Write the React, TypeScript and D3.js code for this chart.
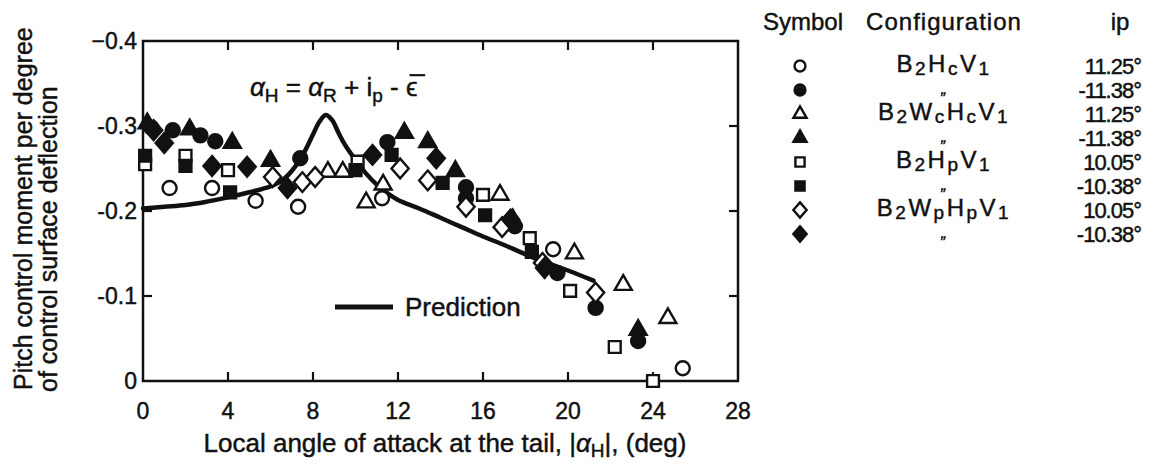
import React from "react";
import * as d3 from "d3";

const width = 1153;
const height = 470;
const frame = { left: 143, right: 738, top: 41, bottom: 381 };
const FONT = "'Liberation Sans', Arial, sans-serif";
const INK = "#111";

// tick values / labels
const xTicks = [0, 4, 8, 12, 16, 20, 24, 28];
const yTicks = [0, -0.1, -0.2, -0.3, -0.4];
const yTickLabels = ["0", "-0.1", "-0.2", "-0.3", "\u22120.4"];

// test data (x = |alpha_H| deg, y = pitch control moment)
const openCircle = [[1.25, -0.227], [3.25, -0.227], [5.3, -0.212], [7.3, -0.205], [11.25, -0.215], [19.3, -0.155], [25.4, -0.015]];
const filledCircle = [[0.4, -0.298], [1.4, -0.295], [2.7, -0.289], [3.4, -0.282], [7.4, -0.262], [11.5, -0.281], [15.2, -0.228], [15.2, -0.215], [17.5, -0.182], [19.5, -0.127], [21.3, -0.086], [23.3, -0.047]];
const openTriangle = [[8.7, -0.246], [9.4, -0.246], [10.5, -0.21], [11.3, -0.231], [16.8, -0.219], [20.3, -0.15], [22.6, -0.113], [24.7, -0.074]];
const filledTriangle = [[0.2, -0.303], [2.2, -0.296], [4.2, -0.28], [6.0, -0.259], [12.3, -0.292], [13.4, -0.281], [14.7, -0.247], [17.4, -0.19], [23.3, -0.06]];
const openSquare = [[0.1, -0.255], [2.0, -0.265], [4.0, -0.248], [10.1, -0.258], [16.0, -0.219], [18.2, -0.168], [20.1, -0.106], [22.2, -0.04], [24, 0]];
const filledSquare = [[0.1, -0.265], [2.0, -0.253], [4.1, -0.222], [10.0, -0.248], [11.7, -0.266], [14.1, -0.233], [16.1, -0.195], [18.3, -0.152]];
const openDiamond = [[6.1, -0.24], [7.5, -0.234], [8.1, -0.24], [12.1, -0.25], [13.4, -0.236], [15.2, -0.205], [16.9, -0.181], [18.8, -0.139], [21.3, -0.104]];
const filledDiamond = [[0.5, -0.295], [1.0, -0.28], [3.25, -0.253], [4.9, -0.252], [6.8, -0.227], [10.8, -0.266], [13.8, -0.262], [17.3, -0.19], [18.9, -0.133]];

// prediction curve
const prediction = [[0, -0.203], [1, -0.205], [2, -0.207], [3, -0.211], [4, -0.216], [5, -0.222], [6, -0.229], [6.5, -0.235], [7, -0.247], [7.5, -0.265], [8, -0.29], [8.3, -0.305], [8.6, -0.313], [8.9, -0.307], [9.2, -0.292], [9.5, -0.278], [10, -0.26], [10.5, -0.244], [11, -0.231], [11.5, -0.221], [12, -0.213], [13, -0.203], [14, -0.192], [15, -0.181], [16, -0.17], [17, -0.16], [18, -0.149], [19, -0.139], [20, -0.13], [21.2, -0.118]];

// legend rows
const legendShapes = ["circle", "circle", "triangle", "triangle", "square", "square", "diamond", "diamond"];
const legendFilled = [false, true, false, true, false, true, false, true];
const legendConfigs = [
  [["B", ""], ["2", "sub"], ["H", ""], ["c", "sub"], ["V", ""], ["1", "sub"]],
  null,
  [["B", ""], ["2", "sub"], ["W", ""], ["c", "sub"], ["H", ""], ["c", "sub"], ["V", ""], ["1", "sub"]],
  null,
  [["B", ""], ["2", "sub"], ["H", ""], ["p", "sub"], ["V", ""], ["1", "sub"]],
  null,
  [["B", ""], ["2", "sub"], ["W", ""], ["p", "sub"], ["H", ""], ["p", "sub"], ["V", ""], ["1", "sub"]],
  null,
];
const legendIp = ["11.25\u00b0", "-11.38\u00b0", "11.25\u00b0", "-11.38\u00b0", "10.05\u00b0", "-10.38\u00b0", "10.05\u00b0", "-10.38\u00b0"];

const series = [
  { data: openCircle, shape: "circle", filled: false },
  { data: filledCircle, shape: "circle", filled: true },
  { data: openTriangle, shape: "triangle", filled: false },
  { data: filledTriangle, shape: "triangle", filled: true },
  { data: openSquare, shape: "square", filled: false },
  { data: filledSquare, shape: "square", filled: true },
  { data: openDiamond, shape: "diamond", filled: false },
  { data: filledDiamond, shape: "diamond", filled: true },
];

const diamondType = {
  draw(ctx, size) {
    const w = Math.sqrt(size) * 0.6;
    const h = w * 1.15;
    ctx.moveTo(0, -h);
    ctx.lineTo(w, 0);
    ctx.lineTo(0, h);
    ctx.lineTo(-w, 0);
    ctx.closePath();
  },
};

function markerPath(shape, scale = 1) {
  if (shape === "circle") return d3.symbol(d3.symbolCircle, 155 * scale)();
  if (shape === "triangle") return d3.symbol(d3.symbolTriangle, 125 * scale)();
  if (shape === "square") return d3.symbol(d3.symbolSquare, 140 * scale)();
  return d3.symbol(diamondType, 205 * scale)();
}

function Marker({ x, y, shape, filled, scale = 1 }) {
  return (
    <path
      transform={`translate(${x},${y})`}
      d={markerPath(shape, scale)}
      fill={filled ? INK : "#fff"}
      stroke={INK}
      strokeWidth={2.4}
    />
  );
}

export default function App() {
  const xScale = d3.scaleLinear().domain([0, 28]).range([frame.left, frame.right]);
  const yScale = d3.scaleLinear().domain([0, -0.4]).range([frame.bottom, frame.top]);
  const line = d3
    .line()
    .x((d) => xScale(d[0]))
    .y((d) => yScale(d[1]))
    .curve(d3.curveCatmullRom);

  const tickLen = 9;
  const legendY = (i) => 66 + i * 24;

  return (
    <svg
      width={width}
      height={height}
      style={{ position: "absolute", left: 0, top: 0, background: "#fff" }}
      fontFamily={FONT}
    >
      {/* frame */}
      <rect
        x={frame.left}
        y={frame.top}
        width={frame.right - frame.left}
        height={frame.bottom - frame.top}
        fill="none"
        stroke={INK}
        strokeWidth={2.5}
      />
      {/* x ticks, bottom and top, pointing inward */}
      {xTicks.slice(1, -1).map((t) => (
        <g key={"xt" + t}>
          <line x1={xScale(t)} x2={xScale(t)} y1={frame.bottom} y2={frame.bottom - tickLen} stroke={INK} strokeWidth={2.2} />
          <line x1={xScale(t)} x2={xScale(t)} y1={frame.top} y2={frame.top + tickLen} stroke={INK} strokeWidth={2.2} />
        </g>
      ))}
      {/* y ticks, left and right */}
      {yTicks.slice(1, -1).map((t) => (
        <g key={"yt" + t}>
          <line x1={frame.left} x2={frame.left + tickLen} y1={yScale(t)} y2={yScale(t)} stroke={INK} strokeWidth={2.2} />
          <line x1={frame.right} x2={frame.right - tickLen} y1={yScale(t)} y2={yScale(t)} stroke={INK} strokeWidth={2.2} />
        </g>
      ))}

      <g fill={INK} stroke={INK} strokeWidth={0.45}>
        {/* tick labels */}
        {xTicks.map((t) => (
          <text key={"xl" + t} x={xScale(t)} y={419} textAnchor="middle" fontSize={23}>
            {t}
          </text>
        ))}
        {yTicks.map((t, i) => (
          <text key={"yl" + t} x={137} y={yScale(t) + 8} textAnchor="end" fontSize={23}>
            {yTickLabels[i]}
          </text>
        ))}

        {/* axis titles */}
        <text x={445} y={452} textAnchor="middle" fontSize={26}>
          Local angle of attack at the tail, |
          <tspan fontStyle="italic">α</tspan>
          <tspan fontSize={19} dy={5}>H</tspan>
          <tspan dy={-5}>|, (deg)</tspan>
        </text>
        <text transform="translate(32,390) rotate(-90)" fontSize={25}>
          Pitch control moment per degree
        </text>
        <text transform="translate(57,392) rotate(-90)" fontSize={25}>
          of control surface deflection
        </text>

        {/* formula */}
        <text x={250} y={96} fontSize={26}>
          <tspan fontStyle="italic">α</tspan>
          <tspan fontSize={19} dy={6}>H</tspan>
          <tspan dy={-6}> = </tspan>
          <tspan fontStyle="italic">α</tspan>
          <tspan fontSize={19} dy={6}>R</tspan>
          <tspan dy={-6}> + i</tspan>
          <tspan fontSize={19} dy={6}>p</tspan>
          <tspan dy={-6}> - </tspan>
          <tspan>{"\u03f5\u0305"}</tspan>
        </text>

        {/* prediction key text */}
        <text x={405} y={316} fontSize={26}>Prediction</text>

        {/* legend text */}
        <text x={763} y={30} fontSize={24}>Symbol</text>
        <text x={944} y={30} fontSize={24} textAnchor="middle" letterSpacing={1}>Configuration</text>
        <text x={1120} y={30} fontSize={24} textAnchor="middle">ip</text>
        {legendShapes.map((shape, i) =>
          legendConfigs[i] ? (
            <text key={"lc" + i} x={944} y={legendY(i) + 6} fontSize={24} textAnchor="middle" letterSpacing={2.5}>
              {legendConfigs[i].map(([t, k], j) => (
                <tspan key={j} fontSize={k === "sub" ? 19 : 24} dy={k === "sub" ? 3 : j === 0 ? 0 : -3}>
                  {t}
                </tspan>
              ))}
            </text>
          ) : (
            <text key={"lc" + i} x={944} y={legendY(i) + 4} fontSize={16} textAnchor="middle" fontStyle="italic">
              {"\u201e"}
            </text>
          )
        )}
        {legendIp.map((v, i) => (
          <text key={"ip" + i} x={1141} y={legendY(i) + 8} fontSize={22} textAnchor="end" letterSpacing={-1}>
            {v}
          </text>
        ))}
      </g>

      {/* prediction curve */}
      <path d={line(prediction)} fill="none" stroke={INK} strokeWidth={4.5} strokeLinejoin="round" strokeLinecap="round" />

      {/* data markers */}
      {series.map((s, si) =>
        s.data.map((d, i) => (
          <Marker key={si + "-" + i} x={xScale(d[0])} y={yScale(d[1])} shape={s.shape} filled={s.filled} />
        ))
      )}

      {/* prediction key line */}
      <line x1={335} x2={393} y1={307} y2={307} stroke={INK} strokeWidth={5} />

      {/* legend symbols */}
      {legendShapes.map((shape, i) => (
        <Marker key={"lg" + i} x={800} y={legendY(i)} shape={shape} filled={legendFilled[i]} scale={0.6} />
      ))}
    </svg>
  );
}
